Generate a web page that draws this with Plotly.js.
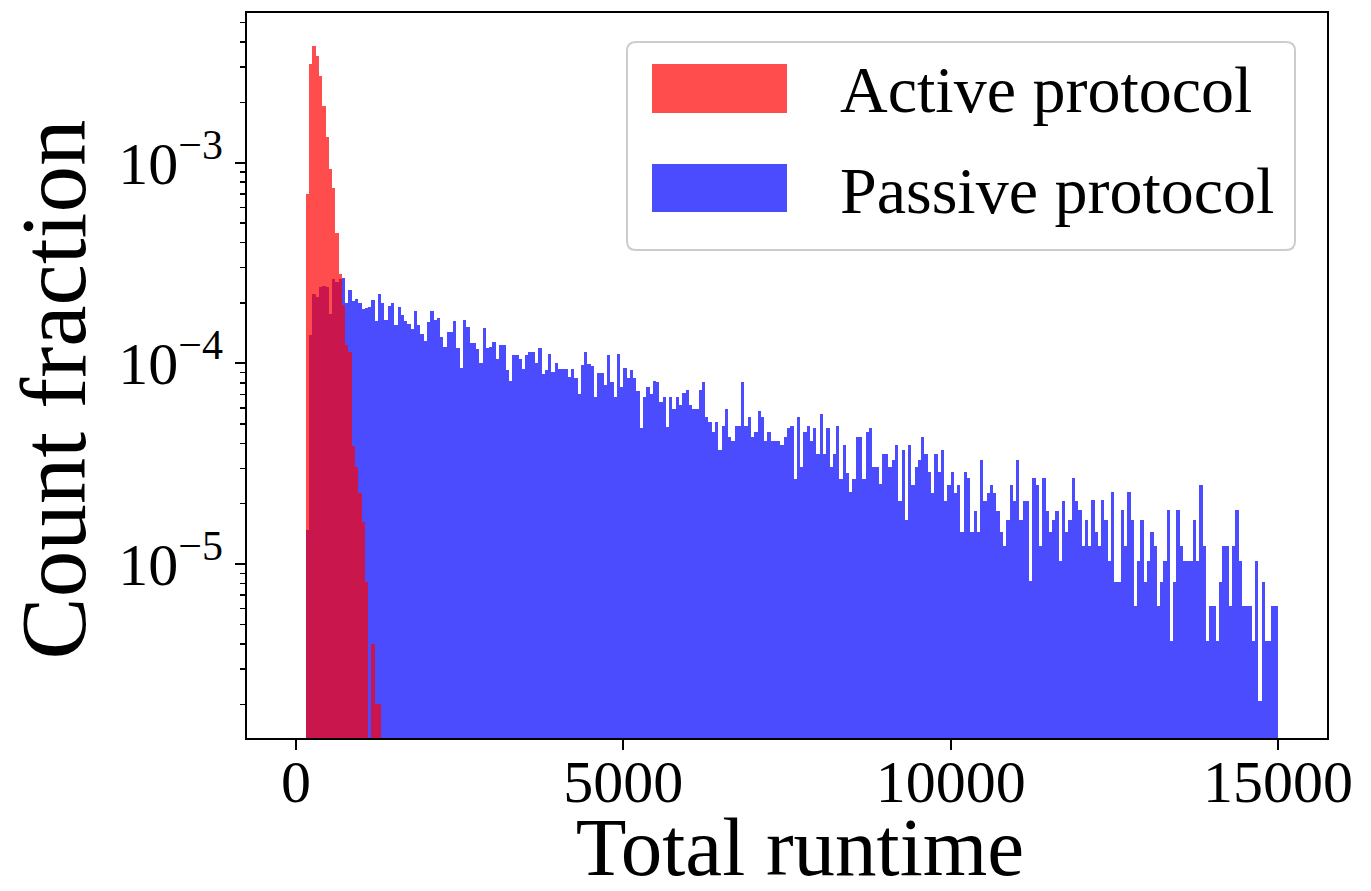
<!DOCTYPE html>
<html>
<head>
<meta charset="utf-8">
<script src="https://cdn.plot.ly/plotly-3.0.1.min.js"></script>
<style>
  html, body { margin: 0; padding: 0; background: #ffffff; }
  #chart { width: 1371px; height: 891px; }
</style>
</head>
<body>
<div id="chart"></div>
<script>
// ---- histogram bins (shared by both series) ----
const binStart = 150;   // left edge of the first plotted bin
const binWidth = 50;    // width of every bin

// ---- series names ----
const activeName = 'Active protocol';
const passiveName = 'Passive protocol';

// ---- Active protocol: count fraction per bin (150-1300) ----
const activeValues = [
  7.0e-4, 3.12e-3, 3.82e-3, 3.40e-3, 2.71e-3, 1.92e-3, 1.35e-3, 9.27e-4, 7.48e-4, 4.45e-4,
  2.80e-4, 1.96e-4, 1.24e-4, 1.14e-4, 3.89e-5, 3.06e-5, 2.25e-5, 1.62e-5, 8.1e-6, null,
  4.0e-6, 2.0e-6, 2.0e-6
];

// ---- Passive protocol: count fraction per bin (150-15000) ----
const passiveValues = [
  1.48e-5, 1.38e-4, 2.21e-4, 2.15e-4, 2.41e-4, 2.43e-4, 2.39e-4, 1.76e-4, 2.62e-4, 2.54e-4,
  2.62e-4, 2.66e-4, 2.0e-4, 2.32e-4, 2.05e-4, 2.1e-4, 2.0e-4, 1.87e-4, 1.89e-4, 1.91e-4,
  2.08e-4, 1.63e-4, 2.23e-4, 2.0e-4, 1.65e-4, 1.94e-4, 2.0e-4, 1.55e-4, 1.9e-4, 1.75e-4,
  1.62e-4, 1.58e-4, 1.49e-4, 1.82e-4, 1.55e-4, 1.40e-4, 1.30e-4, 1.61e-4, 1.82e-4, 1.64e-4,
  1.68e-4, 1.35e-4, 1.21e-4, 1.44e-4, 1.44e-4, 1.62e-4, 1.20e-4, 9.5e-5, 1.64e-4, 1.52e-4,
  1.26e-4, 1.26e-4, 1.18e-4, 1.0e-4, 1.5e-4, 1.2e-4, 1.21e-4, 1.28e-4, 1.05e-4, 1.23e-4,
  1.24e-4, 9.3e-5, 8.2e-5, 1.1e-4, 1.1e-4, 1.05e-4, 9.4e-5, 1.1e-4, 1.14e-4, 1.14e-4,
  1.0e-4, 1.2e-4, 8.9e-5, 9.3e-5, 1.12e-4, 9.1e-5, 1.0e-4, 9.4e-5, 9.4e-5, 9.4e-5,
  8.6e-5, 9.4e-5, 8.5e-5, 7.0e-5, 9.8e-5, 1.14e-4, 9.9e-5, 9.7e-5, 6.8e-5, 9.0e-5,
  9.0e-5, 7.8e-5, 1.1e-4, 8.1e-5, 6.8e-5, 1.12e-4, 7.6e-5, 9.5e-5, 8.5e-5, 9.3e-5,
  8.5e-5, 7.3e-5, 4.74e-5, 6.8e-5, 7.6e-5, 7.0e-5, 8.2e-5, 8.1e-5, 6.43e-5, 6.81e-5,
  4.8e-5, 6.81e-5, 5.91e-5, 6.81e-5, 6.19e-5, 7.1e-5, 7.36e-5, 6.19e-5, 5.91e-5, 5.91e-5,
  7.36e-5, 8.1e-5, 5.38e-5, 5.12e-5, 4.53e-5, 5.12e-5, 3.70e-5, 4.89e-5, 5.91e-5, 4.31e-5,
  4.11e-5, 4.89e-5, 4.89e-5, 8.1e-5, 4.89e-5, 5.38e-5, 4.31e-5, 4.53e-5, 5.8e-5, 5.38e-5,
  4.11e-5, 4.53e-5, 4.11e-5, 4.11e-5, 4.11e-5, 3.92e-5, 4.31e-5, 4.74e-5, 4.89e-5, 2.65e-5,
  5.38e-5, 3.05e-5, 4.53e-5, 4.89e-5, 4.11e-5, 4.74e-5, 3.53e-5, 5.6e-5, 3.53e-5, 4.74e-5,
  3.05e-5, 3.53e-5, 4.89e-5, 2.65e-5, 3.92e-5, 2.86e-5, 2.28e-5, 2.65e-5, 4.31e-5, 4.31e-5,
  2.65e-5, 4.53e-5, 4.74e-5, 3.05e-5, 3.05e-5, 2.52e-5, 3.53e-5, 3.53e-5, 3.05e-5, 3.30e-5,
  3.92e-5, 2.07e-5, 3.70e-5, 1.66e-5, 3.92e-5, 2.49e-5, 3.05e-5, 3.32e-5, 4.30e-5, 3.52e-5,
  2.88e-5, 2.26e-5, 3.52e-5, 2.88e-5, 3.70e-5, 2.07e-5, 2.49e-5, 2.88e-5, 2.26e-5, 2.49e-5,
  1.44e-5, 2.88e-5, 2.67e-5, 1.44e-5, 1.84e-5, 1.44e-5, 3.32e-5, 2.07e-5, 2.26e-5, 2.49e-5,
  2.26e-5, 1.84e-5, 1.44e-5, 1.23e-5, 1.66e-5, 2.49e-5, 2.07e-5, 3.32e-5, 1.66e-5, 2.07e-5,
  2.07e-5, 8.2e-6, 2.67e-5, 2.49e-5, 1.23e-5, 2.67e-5, 1.84e-5, 1.44e-5, 1.66e-5, 1.84e-5,
  1.04e-5, 2.07e-5, 1.44e-5, 1.66e-5, 2.67e-5, 2.07e-5, 1.86e-5, 1.23e-5, 1.66e-5, 1.23e-5,
  2.08e-5, 1.44e-5, 1.23e-5, 2.08e-5, 1.66e-5, 1.04e-5, 2.28e-5, 8.17e-6, 8.17e-6, 1.86e-5,
  1.23e-5, 2.28e-5, 1.66e-5, 6.18e-6, 1.04e-5, 1.66e-5, 8.17e-6, 1.04e-5, 1.44e-5, 1.23e-5,
  6.18e-6, 8.17e-6, 1.04e-5, 1.86e-5, 4.15e-6, 8.17e-6, 1.86e-5, 1.23e-5, 1.04e-5, 1.04e-5,
  1.04e-5, 1.66e-5, 1.04e-5, 2.49e-5, 1.23e-5, 4.15e-6, 6.18e-6, 6.18e-6, 4.15e-6, 8.17e-6,
  1.23e-5, 1.23e-5, 6.18e-6, 1.23e-5, 1.86e-5, 1.04e-5, 6.18e-6, 6.18e-6, 6.18e-6, 4.15e-6,
  1.04e-5, 2.07e-6, 8.17e-6, 4.15e-6, 4.15e-6, 6.18e-6, 6.18e-6
];

// ---- axis ticks ----
const xTickVals = [0, 5000, 10000, 15000];
const xTickText = ['0', '5000', '10000', '15000'];
const yTickVals = [1e-5, 1e-4, 1e-3];
const yTickText = ['10<sup>\u22125</sup>', '10<sup>\u22124</sup>', '10<sup>\u22123</sup>'];
const yMinorDecades = [1e-6, 1e-5, 1e-4, 1e-3];
const yMinorDigits = [2, 3, 4, 5, 6, 7, 8, 9];

// ---- text ----
const xTitle = 'Total runtime';
const yTitle = 'Count fraction';

// ---- styles ----
const blueFill = 'rgba(0,0,255,0.7)';
const redFill = 'rgba(255,0,0,0.7)';
const serif = 'Liberation Serif, Times New Roman, serif';

const yMinorVals = [];
yMinorDecades.forEach(d => yMinorDigits.forEach(m => yMinorVals.push(d * m)));

const traces = [
  {
    type: 'bar', name: passiveName,
    x0: binStart + binWidth / 2, dx: binWidth, y: passiveValues, width: binWidth,
    marker: { color: blueFill, line: { width: 0 } },
    showlegend: false, hoverinfo: 'skip'
  },
  {
    type: 'bar', name: activeName,
    x0: binStart + binWidth / 2, dx: binWidth, y: activeValues, width: binWidth,
    marker: { color: redFill, line: { width: 0 } },
    showlegend: false, hoverinfo: 'skip'
  }
];

// plot area geometry (px) used to place the hand-drawn legend
const W = 1371, H = 891;
const mL = 247, mR = 44, mT = 13, mB = 153;
const pw = W - mL - mR, ph = H - mT - mB;
const px = v => (v - mL) / pw;
const py = v => (H - mB - v) / ph;

function roundRect(x0, y0, x1, y1, r) {
  const X0 = px(x0), X1 = px(x1), Y0 = py(y1), Y1 = py(y0);
  const rx = r / pw, ry = r / ph;
  return `M${X0 + rx},${Y1} L${X1 - rx},${Y1} Q${X1},${Y1} ${X1},${Y1 - ry} ` +
         `L${X1},${Y0 + ry} Q${X1},${Y0} ${X1 - rx},${Y0} L${X0 + rx},${Y0} ` +
         `Q${X0},${Y0} ${X0},${Y0 + ry} L${X0},${Y1 - ry} Q${X0},${Y1} ${X0 + rx},${Y1} Z`;
}

const shapes = [
  { type: 'path', xref: 'paper', yref: 'paper', path: roundRect(627, 42, 1295, 250, 9),
    fillcolor: 'rgba(255,255,255,0.8)', line: { color: '#cccccc', width: 2 }, layer: 'above' },
  { type: 'rect', xref: 'paper', yref: 'paper', x0: px(652), x1: px(787), y0: py(113), y1: py(64),
    fillcolor: redFill, line: { width: 0 }, layer: 'above' },
  { type: 'rect', xref: 'paper', yref: 'paper', x0: px(652), x1: px(787), y0: py(212), y1: py(164),
    fillcolor: blueFill, line: { width: 0 }, layer: 'above' }
];

const annotations = [
  { xref: 'paper', yref: 'paper', x: px(838), y: py(90), xanchor: 'left', yanchor: 'middle',
    text: activeName, showarrow: false, font: { family: serif, size: 66, color: '#000' } },
  { xref: 'paper', yref: 'paper', x: px(838), y: py(190), xanchor: 'left', yanchor: 'middle',
    text: passiveName, showarrow: false, font: { family: serif, size: 66, color: '#000' } }
];

const layout = {
  width: W, height: H,
  margin: { l: mL, r: mR, t: mT, b: mB, pad: 0 },
  paper_bgcolor: '#ffffff', plot_bgcolor: '#ffffff',
  font: { family: serif, color: '#000000' },
  barmode: 'overlay', bargap: 0,
  showlegend: false,
  xaxis: {
    range: [-750, 15750],
    tickmode: 'array', tickvals: xTickVals, ticktext: xTickText,
    ticks: 'outside', ticklen: 10, tickwidth: 2, tickcolor: '#000',
    showline: true, linewidth: 2, linecolor: '#000', mirror: true,
    showgrid: false, zeroline: false,
    tickfont: { family: serif, size: 60, color: '#000' },
    title: { text: xTitle, font: { family: serif, size: 83, color: '#000' }, standoff: 18 }
  },
  yaxis: {
    type: 'log', range: [-5.8667, -2.2538],
    tickmode: 'array', tickvals: yTickVals, ticktext: yTickText,
    ticks: 'outside', ticklen: 10, tickwidth: 2, tickcolor: '#000',
    minor: { tickmode: 'array', tickvals: yMinorVals, ticks: 'outside', ticklen: 5, tickwidth: 1.5, tickcolor: '#000', showgrid: false },
    showline: true, linewidth: 2, linecolor: '#000', mirror: true,
    showgrid: false, zeroline: false,
    tickfont: { family: serif, size: 60, color: '#000' },
    title: { text: yTitle, font: { family: serif, size: 93, color: '#000' }, standoff: 26 }
  },
  shapes: shapes,
  annotations: annotations
};

function nudge(el, dx, dy) {
  if (!el) return;
  const tr = el.getAttribute('transform') || '';
  el.setAttribute('transform', `translate(${dx},${dy}) ${tr}`.trim());
}

Plotly.newPlot('chart', traces, layout, { staticPlot: true, displayModeBar: false }).then(gd => {
  // bring x tick labels closer to the axis, and titles to the reference's placement
  gd.querySelectorAll('.xaxislayer-above g.xtick text').forEach(t => nudge(t, 0, -20));
  nudge(gd.querySelector('.g-xtitle text'), 13, 2);
  nudge(gd.querySelector('.g-ytitle text'), 2, 14);
});
</script>
</body>
</html>
